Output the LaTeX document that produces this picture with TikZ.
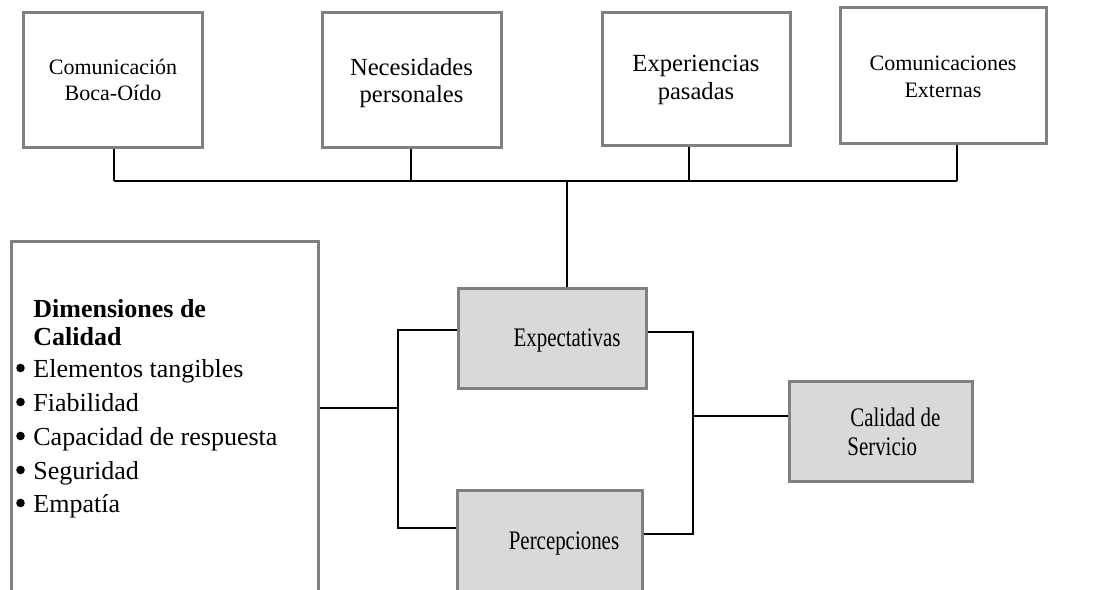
\documentclass[tikz,border=0pt]{standalone}
\usepackage{fontspec}
\setmainfont{Liberation Serif}
\newfontfamily\condfont[FakeStretch=0.78]{Liberation Serif}
\definecolor{boxgray}{HTML}{808080}
\definecolor{fillgray}{HTML}{D9D9D9}
\tikzset{
  wbox/.style={draw=boxgray, line width=1.5pt, fill=white, inner sep=0pt},
  gbox/.style={draw=boxgray, line width=1.5pt, fill=fillgray, inner sep=0pt},
  conn/.style={draw=black, line width=1pt},
  toptext/.style={align=center, inner sep=0pt},
  dimtext/.style={anchor=base west, inner sep=0pt, font=\fontsize{13}{15}\selectfont},
  bul/.style={circle, fill=black, inner sep=0pt, minimum size=4.3pt},
  gtext/.style={inner sep=0pt, font=\condfont\fontsize{13.4}{15}\selectfont}
}
\begin{document}
\begin{tikzpicture}[x=0.5pt,y=-0.5pt]
\clip (0,0) rectangle (1097,589);
\fill[white] (0,0) rectangle (1097,589);

% top boxes
\node[wbox, minimum width=89.5pt, minimum height=67.5pt] (b1) at (112.5,79.5) {};
\node[toptext, font=\fontsize{11}{13.2}\selectfont] (t1) at (113,80) {Comunicación\\Boca-Oído};
\node[wbox, minimum width=89.5pt, minimum height=67.5pt] (b2) at (411.5,79.5) {};
\node[toptext, font=\fontsize{12.3}{13.5}\selectfont] (t2) at (411.5,83) {Necesidades\\personales};
\node[wbox, minimum width=94pt, minimum height=66.5pt] (b3) at (696,78.5) {};
\node[toptext, font=\fontsize{12.3}{14}\selectfont] (t3) at (696,80) {Experiencias\\pasadas};
\node[wbox, minimum width=103pt, minimum height=68pt] (b4) at (943,75) {};
\node[toptext, font=\fontsize{11}{13.2}\selectfont] (t4) at (943,77) {Comunicaciones\\Externas};

% bus
\coordinate (j1) at (114,181);
\coordinate (j2) at (411,181);
\coordinate (j3) at (689,181);
\coordinate (j4) at (957,181);
\coordinate (jt) at (567,181);
\draw[conn] (j1 |- b1.south) -- (j1);
\draw[conn] (j2 |- b2.south) -- (j2);
\draw[conn] (j3 |- b3.south) -- (j3);
\draw[conn] (j4 |- b4.south) -- (j4);
\draw[conn] (j1) -- (j4);

% left box
\node[wbox, minimum width=153.5pt, minimum height=184.5pt] (dim) at (164.5,425.5) {};
\node[dimtext] (d1) at (33,317) {\textbf{Dimensiones de}};
\node[dimtext] (d2) at (33,345) {\textbf{Calidad}};
\node[dimtext] (d3) at (33,377) {Elementos tangibles};
\node[dimtext] (d4) at (33,411) {Fiabilidad};
\node[dimtext] (d5) at (33,445) {Capacidad de respuesta};
\node[dimtext] (d6) at (33,479) {Seguridad};
\node[dimtext] (d7) at (33,512) {Empatía};
\foreach \yy/\nm in {368/p3,402/p4,436/p5,470/p6,503/p7}{
  \node[bul] (\nm) at (20.5,\yy) {};
}

% gray boxes
\node[gbox, minimum width=94pt, minimum height=50pt] (exp) at (552,338) {};
\node[gtext] (expt) at (567,340) {Expectativas};
\node[gbox, minimum width=92.5pt, minimum height=60pt] (per) at (549.5,550) {};
\node[gtext] (pert) at (564,543) {Percepciones};
\node[gbox, minimum width=91.5pt, minimum height=50pt] (cal) at (880.5,431) {};
\node[gtext, anchor=west] (calt1) at (850,417) {Calidad de};
\node[gtext, anchor=west] (calt2) at (847,447) {Servicio};

% trunk to Expectativas
\draw[conn] (jt) -- (jt |- exp.north);

% left bracket
\coordinate (lb) at (398,408);
\coordinate (lbt) at (398,330);
\coordinate (lbb) at (398,528);
\draw[conn] (dim.east |- lb) -- (lb);
\draw[conn] (exp.west |- lbt) -- (lbt) -- (lbb) -- (per.west |- lbb);

% right bracket
\coordinate (rbt) at (693,332);
\coordinate (rbb) at (693,534);
\coordinate (rbm) at (693,416);
\draw[conn] (exp.east |- rbt) -- (rbt) -- (rbb) -- (per.east |- rbb);
\draw[conn] (rbm) -- (cal.west |- rbm);
\end{tikzpicture}
\end{document}
